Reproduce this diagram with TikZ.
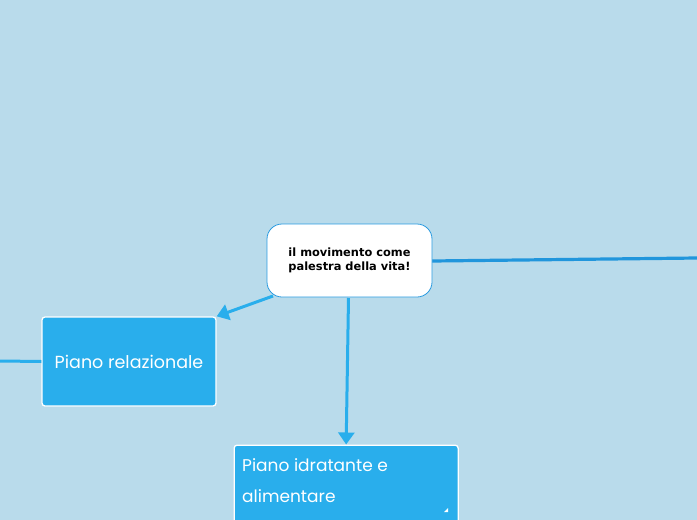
\documentclass[tikz,border=0pt]{standalone}
\usepackage{fontspec}
\setmainfont{DejaVu Sans}
\newfontfamily\boxfont{Poppins}
\usetikzlibrary{arrows.meta}
\definecolor{bg}{HTML}{B9DBEB}
\definecolor{boxblue}{HTML}{29AEEC}
\definecolor{lineblue}{HTML}{2196DC}
\definecolor{rootborder}{HTML}{2A9BE0}
\tikzset{
  px/.style={x=1pt,y=-1pt},
  rootbox/.style={draw=rootborder,line width=0.8pt,fill=white,rounded corners=15pt,minimum width=165pt,minimum height=73pt,align=center,font=\bfseries\fontsize{11.4}{13.5}\selectfont,text=black},
  subbox/.style={draw=white,line width=1.3pt,fill=boxblue,rounded corners=3pt,text=white,font=\boxfont\fontsize{17.5}{31}\selectfont},
  conn/.style={draw=boxblue,line width=3pt,-{Triangle[length=12pt,width=16pt]}},
  plain/.style={draw=boxblue,line width=3pt},
  darkline/.style={draw=lineblue,line width=3.2pt}
}
\begin{document}
\begin{tikzpicture}[px]
\fill[bg] (0,0) rectangle (697,520);
\useasboundingbox (0,0) rectangle (697,520);
\coordinate (rightend) at (697,258);
\coordinate (leftend) at (0,361);
\draw[darkline] (432,261) -- (rightend);
\node[rootbox] (root) at (349.5,260.5) {il movimento come\\palestra della vita!};
\node[subbox,minimum width=174pt,minimum height=89pt] (rel) at (129,361.5) {Piano relazionale};
\node[subbox,minimum width=224pt,minimum height=80pt,anchor=north west] (idr) at (233.5,444.5) {};
\node[text=white,font=\boxfont\fontsize{17}{31}\selectfont,anchor=north west,align=left,inner sep=0pt] (idrtext) at (242,458) {Piano idratante e\\alimentare};
\fill[white] (448,508) -- (448,512) -- (444,512) -- cycle;
\draw[plain] (leftend) -- (rel.west);
\draw[conn] (273,296) -- (rel.north east);
\draw[conn] (348.5,298) -- (idr.north);
\end{tikzpicture}
\end{document}
